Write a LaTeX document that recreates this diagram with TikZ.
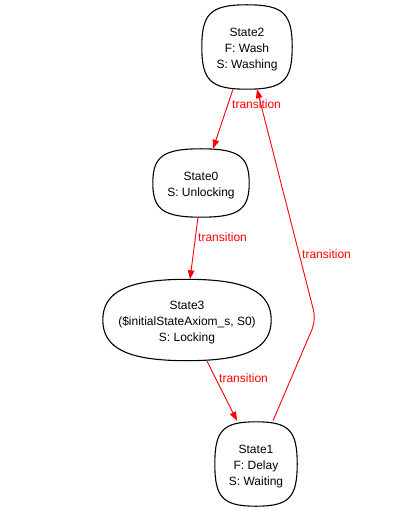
\documentclass[tikz,border=0pt]{standalone}
\usepackage{fontspec}
\setmainfont{Liberation Sans}
\usetikzlibrary{arrows.meta,calc}
\newcommand\mysqshape[2]{%
  \draw[line width=1.1pt] (#1.north)
    .. controls ($(#1.north)!#2!(#1.north east)$) and ($(#1.east)!#2!(#1.north east)$) .. (#1.east)
    .. controls ($(#1.east)!#2!(#1.south east)$) and ($(#1.south)!#2!(#1.south east)$) .. (#1.south)
    .. controls ($(#1.south)!#2!(#1.south west)$) and ($(#1.west)!#2!(#1.south west)$) .. (#1.west)
    .. controls ($(#1.west)!#2!(#1.north west)$) and ($(#1.north)!#2!(#1.north west)$) .. (#1.north) -- cycle;}
\begin{document}
\begin{tikzpicture}[x=1pt,y=-1pt,
  state/.style={inner sep=0pt},
  stext/.style={inner sep=0pt, align=center, yshift=-2.5pt, font=\fontsize{12}{16}\selectfont},
  trans/.style={draw=red, line width=0.9pt, -{Triangle[length=9pt,width=6.5pt]}},
  lbl/.style={text=red, anchor=west, inner sep=0pt, font=\fontsize{12}{14}\selectfont}]
\useasboundingbox (0,0) rectangle (419,510);
\node[state, minimum width=90pt, minimum height=84pt, label={[stext]center:State2\\F: Wash\\S: Washing}] (s2) at (247,47) {};
\node[state, minimum width=96pt, minimum height=68pt, label={[stext]center:State0\\S: Unlocking}] (s0) at (201,183) {};
\node[state, minimum width=168pt, minimum height=81pt, label={[stext]center:State3\\(\$initialStateAxiom\_s, S0)\\S: Locking}] (s3) at (187,320) {};
\node[state, minimum width=82pt, minimum height=84pt, label={[stext]center:State1\\F: Delay\\S: Waiting}] (s1) at (256,464) {};
\mysqshape{s2}{0.8}
\mysqshape{s0}{0.78}
\mysqshape{s3}{0.7}
\mysqshape{s1}{0.8}
\coordinate (bend) at (316,320);
\draw[trans] ([xshift=-14pt]s2.south) -- ([xshift=12pt]s0.north);
\draw[trans] ([xshift=-3pt]s0.south) -- ([xshift=3pt]s3.north);
\draw[trans] ([xshift=20pt,yshift=-0.5pt]s3.south) -- ([xshift=-19pt,yshift=1pt]s1.north);
\draw[trans, rounded corners=10pt] ([xshift=17pt,yshift=1pt]s1.north) -- (bend) -- ([xshift=10pt]s2.south);
\node[lbl] (l1) at (232,104) {transition};
\node[lbl] (l2) at (198,237) {transition};
\node[lbl] (l3) at (219,378) {transition};
\node[lbl] (l4) at (302,254) {transition};
\end{tikzpicture}
\end{document}
